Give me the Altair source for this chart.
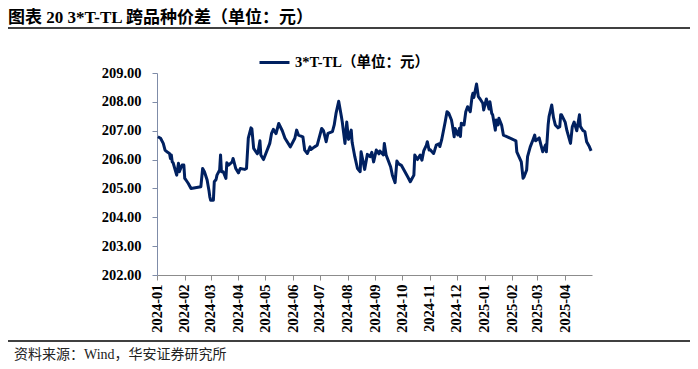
import altair as alt
import pandas as pd

dates = [
    "2024-01-02", "2024-01-05", "2024-01-08", "2024-01-10", "2024-01-12", "2024-01-15",
    "2024-01-16", "2024-01-17", "2024-01-18", "2024-01-19", "2024-01-23", "2024-01-25",
    "2024-01-26", "2024-01-29", "2024-01-31", "2024-02-01", "2024-02-02", "2024-02-05",
    "2024-02-08", "2024-02-19", "2024-02-21", "2024-02-23", "2024-02-26", "2024-02-28",
    "2024-02-29", "2024-03-01", "2024-03-04", "2024-03-05", "2024-03-07", "2024-03-08",
    "2024-03-11", "2024-03-12", "2024-03-13", "2024-03-15", "2024-03-18", "2024-03-19",
    "2024-03-21", "2024-03-25", "2024-03-26", "2024-03-28", "2024-03-29", "2024-04-01",
    "2024-04-03", "2024-04-08", "2024-04-10", "2024-04-12", "2024-04-15", "2024-04-16",
    "2024-04-18", "2024-04-22", "2024-04-23", "2024-04-25", "2024-04-26", "2024-04-29",
    "2024-05-06", "2024-05-08", "2024-05-10", "2024-05-13", "2024-05-16", "2024-05-20",
    "2024-05-23", "2024-05-29", "2024-06-03", "2024-06-05", "2024-06-07", "2024-06-12",
    "2024-06-14", "2024-06-17", "2024-06-20", "2024-06-21", "2024-06-25", "2024-06-28",
    "2024-07-03", "2024-07-05", "2024-07-08", "2024-07-10", "2024-07-15", "2024-07-17",
    "2024-07-19", "2024-07-22", "2024-07-25", "2024-07-26", "2024-07-29", "2024-07-31",
    "2024-08-02", "2024-08-05", "2024-08-06", "2024-08-09", "2024-08-12", "2024-08-15",
    "2024-08-16", "2024-08-20", "2024-08-23", "2024-08-26", "2024-08-28", "2024-08-30",
    "2024-09-02", "2024-09-05", "2024-09-06", "2024-09-10", "2024-09-11", "2024-09-13",
    "2024-09-18", "2024-09-20", "2024-09-23", "2024-09-25", "2024-09-27", "2024-09-30",
    "2024-10-08", "2024-10-10", "2024-10-14", "2024-10-15", "2024-10-18", "2024-10-21",
    "2024-10-23", "2024-10-25", "2024-10-28", "2024-10-29", "2024-10-31", "2024-11-01",
    "2024-11-05", "2024-11-06", "2024-11-08", "2024-11-11", "2024-11-12", "2024-11-14",
    "2024-11-18", "2024-11-20", "2024-11-22", "2024-11-25", "2024-11-26", "2024-11-28",
    "2024-11-29", "2024-12-02", "2024-12-04", "2024-12-05", "2024-12-06", "2024-12-09",
    "2024-12-11", "2024-12-13", "2024-12-16", "2024-12-18", "2024-12-19", "2024-12-20",
    "2024-12-23", "2024-12-25", "2024-12-27", "2024-12-30", "2024-12-31", "2025-01-03",
    "2025-01-06", "2025-01-07", "2025-01-09", "2025-01-10", "2025-01-13", "2025-01-14",
    "2025-01-16", "2025-01-17", "2025-01-20", "2025-01-22", "2025-01-24", "2025-01-27",
    "2025-02-05", "2025-02-06", "2025-02-07", "2025-02-11", "2025-02-13", "2025-02-14",
    "2025-02-17", "2025-02-18", "2025-02-21", "2025-02-24", "2025-02-26", "2025-02-27",
    "2025-03-03", "2025-03-05", "2025-03-07", "2025-03-10", "2025-03-11", "2025-03-13",
    "2025-03-14", "2025-03-17", "2025-03-19", "2025-03-21", "2025-03-24", "2025-03-26",
    "2025-03-27", "2025-03-28", "2025-04-01", "2025-04-03", "2025-04-07", "2025-04-09",
    "2025-04-11", "2025-04-14", "2025-04-17", "2025-04-18", "2025-04-21", "2025-04-23",
    "2025-04-25", "2025-04-28", "2025-04-30",
]

values = [
    206.79, 206.74, 206.56, 206.33, 206.27, 206.21,
    206.04, 206.16, 205.92, 205.89, 205.46, 205.87,
    205.58, 205.81, 205.81, 205.35, 205.31, 205.17,
    205.00, 205.06, 205.69, 205.58, 205.29, 204.94,
    204.71, 204.59, 204.59, 205.23, 205.31, 205.46,
    205.64, 206.16, 205.58, 205.58, 205.35, 205.89,
    205.81, 205.92, 206.04, 205.81, 205.69, 205.54,
    205.69, 205.66, 205.69, 206.74, 207.10, 207.06,
    206.39, 206.20, 206.27, 206.65, 206.16, 206.00,
    206.56, 206.91, 207.05, 206.90, 207.25, 207.00,
    206.74, 206.44, 206.74, 207.02, 206.85, 206.79,
    206.33, 206.21, 206.44, 206.35, 206.44, 206.50,
    207.08, 207.00, 206.62, 206.91, 206.97, 207.20,
    207.60, 208.02, 207.49, 207.30, 206.56, 207.30,
    206.70, 207.02, 206.60, 206.10, 205.69, 205.58,
    206.27, 205.66, 206.18, 206.10, 206.25, 205.92,
    206.33, 206.20, 206.30, 206.16, 206.56, 206.16,
    205.75, 205.46, 205.20, 205.95, 205.85, 205.80,
    205.35, 205.23, 205.46, 206.16, 206.00, 206.16,
    205.98, 206.30, 206.50, 206.62, 206.33, 206.35,
    206.21, 206.30, 206.50, 206.55, 206.45, 206.68,
    207.31, 207.66, 207.60, 207.37, 207.20, 206.79,
    207.08, 206.85, 207.08, 206.80, 207.26, 207.20,
    207.66, 207.83, 207.66, 208.18, 208.30, 208.15,
    208.62, 208.18, 208.10, 207.95, 207.72, 208.10,
    207.75, 208.00, 207.60, 207.55, 207.02, 207.37,
    207.20, 207.43, 207.20, 206.85, 206.82, 206.78,
    206.65, 206.27, 206.20, 205.92, 205.35, 205.40,
    205.64, 206.10, 206.44, 206.68, 206.85, 206.65,
    206.75, 206.50, 206.27, 206.50, 206.27, 207.20,
    207.49, 207.89, 207.45, 207.20, 207.10, 207.14,
    207.55, 207.55, 207.30, 207.00, 206.56, 207.14,
    207.30, 207.00, 207.55, 207.15, 207.00, 206.97,
    206.62, 206.45, 206.30,
]

series_name = "3*T-TL（单位：元）"
title_text = "图表 20 3*T-TL 跨品种价差（单位：元）"
source_text = "资料来源：Wind，华安证券研究所"
y_ticks = [202, 203, 204, 205, 206, 207, 208, 209]
month_ticks = [
    "2024-01", "2024-02", "2024-03", "2024-04", "2024-05", "2024-06", "2024-07", "2024-08",
    "2024-09", "2024-10", "2024-11", "2024-12", "2025-01", "2025-02", "2025-03", "2025-04",
]
x_start = "2024-01"
x_end = "2025-05"

FONT = "Liberation Serif, Times New Roman, Noto Sans CJK SC"
LINE_COLOR = "#002060"

df = pd.DataFrame({"date": dates, "value": values, "series": series_name})


def dt(m):
    return alt.DateTime(year=int(m[:4]), month=int(m[5:]), date=1, utc=True)


line = alt.Chart(df).mark_line(strokeWidth=3, strokeJoin="round").encode(
    x=alt.X(
        "date:T",
        scale=alt.Scale(type="utc", domain=[dt(x_start), dt(x_end)]),
        axis=alt.Axis(
            values=[dt(m) for m in month_ticks],
            labelExpr="utcFormat(datum.value, '%Y-%m')",
            labelAngle=270,
            labelAlign="right",
            labelBaseline="middle",
            labelPadding=4,
            labelFlush=False,
            labelOverlap=False,
            labelFontSize=14.5,
            domainColor="#8C8C8C",
            tickColor="#8C8C8C",
            tickSize=5,
            grid=False,
            title=None,
        ),
    ),
    y=alt.Y(
        "value:Q",
        scale=alt.Scale(domain=[202, 209], nice=False, zero=False),
        axis=alt.Axis(
            values=y_ticks,
            format=".2f",
            labelPadding=11,
            labelFontSize=14.5,
            domainColor="#7F8CA8",
            tickColor="#7F8CA8",
            tickSize=5,
            grid=False,
            title=None,
        ),
    ),
    color=alt.Color(
        "series:N",
        scale=alt.Scale(domain=[series_name], range=[LINE_COLOR]),
        legend=alt.Legend(
            orient="none",
            legendX=101,
            legendY=-27,
            title=None,
            symbolType="stroke",
            symbolSize=900,
            symbolStrokeWidth=3,
            labelFont=FONT,
            labelFontSize=14.5,
            labelFontWeight="bold",
            labelColor="#000000",
            padding=0,
        ),
    ),
)

title_df = pd.DataFrame({"t": [title_text]})
title = alt.Chart(title_df).mark_text(
    align="left", baseline="middle", font=FONT, fontSize=17, fontWeight="bold", color="#000000"
).encode(x=alt.value(-149), y=alt.value(-55), text="t:N")

source_df = pd.DataFrame({"t": [source_text]})
source = alt.Chart(source_df).mark_text(
    align="left", baseline="middle", font=FONT, fontSize=14, color="#222222"
).encode(x=alt.value(-143), y=alt.value(282), text="t:N")

rule_df = pd.DataFrame({"k": [0]})
top_rule = alt.Chart(rule_df).mark_rule(color="#000000", strokeWidth=1.5).encode(
    x=alt.value(-149), x2=alt.value(533), y=alt.value(-45)
)
bottom_rule = alt.Chart(rule_df).mark_rule(color="#000000", strokeWidth=1.5).encode(
    x=alt.value(-149), x2=alt.value(533), y=alt.value(268)
)

chart = (
    alt.layer(line, title, source, top_rule, bottom_rule)
    .properties(
        width=435,
        height=202,
        padding={"left": 149, "top": 65, "right": 98, "bottom": 86},
        autosize=alt.AutoSizeParams(type="none"),
    )
    .configure_axis(
        labelFont=FONT,
        labelFontWeight="bold",
        labelColor="#000000",
    )
    .configure_view(strokeWidth=0)
)

chart.save("out.html", embed_options={"renderer": "svg", "actions": False})
